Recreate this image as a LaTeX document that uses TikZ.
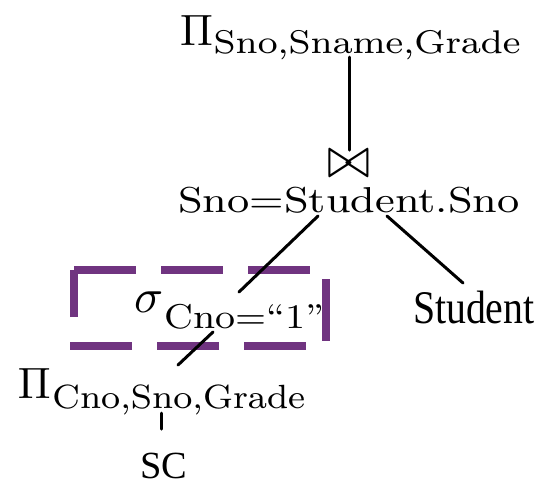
\documentclass[tikz,border=0pt]{standalone}
\usepackage[no-math]{fontspec}
\usepackage{graphicx}
\newfontfamily\timesfont{Liberation Serif}
\definecolor{boxpurple}{RGB}{112,52,128}
\begin{document}
\begin{tikzpicture}[x=0.25pt,y=-0.25pt,
  lbl/.style={inner sep=0pt, outer sep=0pt, anchor=base west},
  edge/.style={line width=0.75pt, line cap=round},
  dashbox/.style={draw=boxpurple, line width=2pt, dash pattern=on 15.5pt off 6.25pt}]
\useasboundingbox (0,0) rectangle (534,485);

% nodes
\node[lbl] (proj1) at (180,45) {\fontsize{11}{13}\selectfont$\Pi$\kern0.2pt\raisebox{-2pt}{\scalebox{1.14}[1]{\fontsize{8.2}{10}\selectfont Sno,Sname,Grade}}};
\node[inner sep=0pt, outer sep=0pt] (join) at (349,163.5) {\resizebox*{10.75pt}{6.75pt}{$\bowtie$}};
\node[lbl] (cond) at (178,212) {\scalebox{1.2}[1]{\fontsize{9}{11}\selectfont Sno=Student.Sno}};
\node[lbl] (sel) at (134,312) {\scalebox{1.2}{\fontsize{10}{12}\selectfont$\sigma$}\kern0.3pt\raisebox{-4pt}{\scalebox{1.13}[1]{\fontsize{8.6}{10}\selectfont Cno=“1”}}};
\node[lbl] (student) at (413,323) {\timesfont\scalebox{0.85}[1]{\fontsize{11.7}{14}\selectfont Student}};
\node[lbl] (proj2) at (18,398) {\fontsize{11}{13}\selectfont$\Pi$\kern0.4pt\raisebox{-2.5pt}{\scalebox{1.07}[1]{\fontsize{8.4}{10}\selectfont Cno,Sno,Grade}}};
\node[lbl] (sc) at (140,478) {\timesfont\fontsize{9.6}{11}\selectfont SC};

% dashed selection box
\draw[dashbox] (74,270) -- (326,270) -- (326,346) -- (74,346) -- cycle;

% connectors
\draw[edge] ([shift={(169,12)}]proj1.base west) -- (join.north);
\draw[edge] ([shift={(140,4)}]cond.base west) -- ([shift={(105,-20)}]sel.base west);
\draw[edge] ([shift={(209,4)}]cond.base west) -- ([shift={(50,-40)}]student.base west);
\draw[edge] ([shift={(79,20)}]sel.base west) -- ([shift={(160,-33)}]proj2.base west);
\draw[edge] ([shift={(143,15)}]proj2.base west) -- ([shift={(21,-49)}]sc.base west);
\end{tikzpicture}
\end{document}
